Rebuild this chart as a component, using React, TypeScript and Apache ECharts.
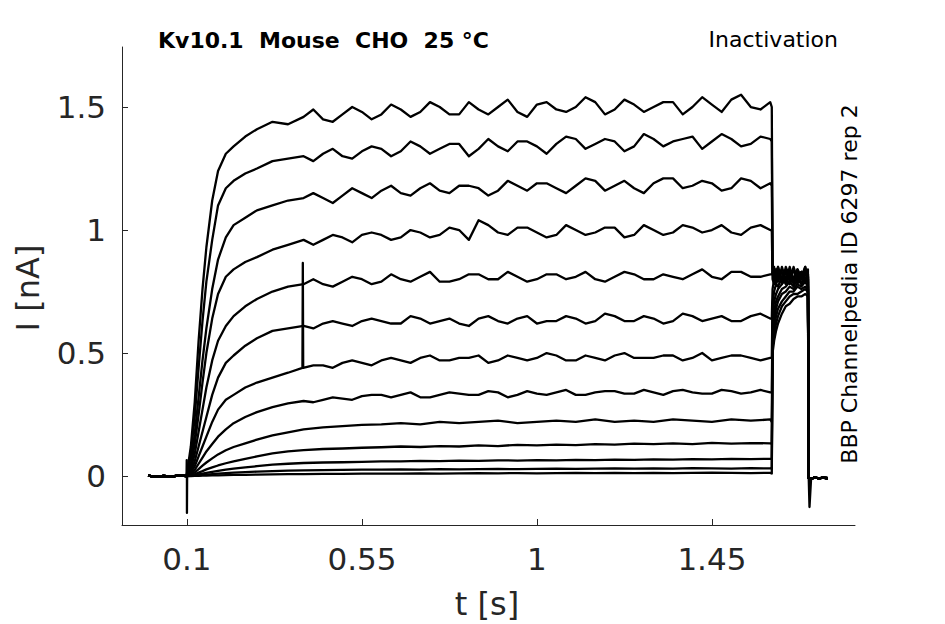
import React, { useEffect, useRef } from "react";
import * as echarts from "echarts";

// ---- axis ticks ----
const X_TICKS = [0.1, 0.55, 1, 1.45];
const Y_TICKS = [0, 0.5, 1, 1.5];

// ---- pre-pulse baseline ----
const PRE_T = [0, 0.02, 0.04, 0.06, 0.08, 0.099];
const PRE_I = [0.002, -0.003, 0.001, -0.002, 0.003, 0.0];

// capacitive artifact at pulse onset
const START_SPIKE_T = [0.0995, 0.1, 0.1005];
const START_SPIKE_I = [0.065, -0.15, 0.0];

// ---- step pulse time grid ----
const STEP_T = [0.1, 0.11, 0.12, 0.13, 0.14, 0.15, 0.165, 0.18, 0.2, 0.22, 0.25, 0.28, 0.32, 0.36, 0.4, 0.45, 0.5, 0.55, 0.6,
  0.65, 0.7, 0.75, 0.8, 0.85, 0.9, 0.95, 1.0, 1.05, 1.1, 1.15, 1.2, 1.25, 1.3, 1.35, 1.4, 1.45, 1.5, 1.55, 1.6];

const TRACE_1 = [0, 0.12, 0.30, 0.55, 0.76, 0.93, 1.12, 1.24, 1.31, 1.34, 1.38, 1.41, 1.44, 1.43, 1.46, 1.45, 1.47, 1.48, 1.47,
  1.49, 1.48, 1.50, 1.47, 1.49, 1.50, 1.48, 1.51, 1.49, 1.50, 1.52, 1.49, 1.51, 1.50, 1.52, 1.50, 1.51, 1.53, 1.50, 1.52];
const TRACE_2 = [0, 0.09, 0.24, 0.44, 0.63, 0.79, 0.96, 1.10, 1.17, 1.20, 1.23, 1.25, 1.28, 1.29, 1.30, 1.31, 1.30, 1.32, 1.33,
  1.32, 1.34, 1.33, 1.35, 1.33, 1.34, 1.36, 1.34, 1.35, 1.37, 1.35, 1.36, 1.34, 1.37, 1.36, 1.38, 1.36, 1.37, 1.35, 1.37];
const TRACE_3 = [0, 0.06, 0.17, 0.32, 0.47, 0.60, 0.76, 0.88, 0.97, 1.02, 1.05, 1.08, 1.10, 1.12, 1.13, 1.13, 1.14, 1.15, 1.16,
  1.15, 1.17, 1.16, 1.18, 1.17, 1.16, 1.18, 1.19, 1.17, 1.18, 1.20, 1.18, 1.17, 1.19, 1.21, 1.18, 1.19, 1.17, 1.20, 1.19];
const TRACE_4 = [0, 0.04, 0.13, 0.25, 0.38, 0.50, 0.64, 0.74, 0.81, 0.84, 0.87, 0.89, 0.92, 0.94, 0.96, 0.96, 0.97, 0.98, 0.98,
  0.97, 0.99, 0.98, 1.00, 1.04, 0.99, 1.01, 0.99, 0.98, 1.00, 0.99, 1.01, 0.98, 1.00, 0.99, 1.01, 1.00, 0.99, 1.01, 1.00];
const TRACE_5 = [0, 0.03, 0.09, 0.18, 0.27, 0.36, 0.47, 0.55, 0.61, 0.65, 0.69, 0.72, 0.75, 0.77, 0.78, 0.78, 0.79, 0.80, 0.79,
  0.80, 0.81, 0.79, 0.80, 0.82, 0.80, 0.81, 0.80, 0.82, 0.81, 0.80, 0.81, 0.82, 0.80, 0.81, 0.82, 0.81, 0.83, 0.81, 0.82];
const TRACE_6 = [0, 0.02, 0.06, 0.12, 0.18, 0.24, 0.33, 0.40, 0.46, 0.49, 0.53, 0.56, 0.59, 0.60, 0.61, 0.62, 0.62, 0.63, 0.63,
  0.62, 0.64, 0.63, 0.62, 0.64, 0.63, 0.64, 0.62, 0.63, 0.64, 0.63, 0.65, 0.63, 0.64, 0.63, 0.65, 0.64, 0.63, 0.65, 0.64];
const TRACE_7 = [0, 0.015, 0.04, 0.08, 0.12, 0.16, 0.22, 0.27, 0.31, 0.33, 0.36, 0.38, 0.40, 0.42, 0.44, 0.45, 0.46, 0.46, 0.47,
  0.47, 0.48, 0.47, 0.48, 0.49, 0.47, 0.48, 0.48, 0.49, 0.47, 0.48, 0.49, 0.48, 0.48, 0.49, 0.48, 0.47, 0.49, 0.48, 0.48];
const TRACE_8 = [0, 0.01, 0.025, 0.05, 0.075, 0.10, 0.13, 0.16, 0.19, 0.215, 0.24, 0.26, 0.28, 0.295, 0.305, 0.31, 0.315, 0.325, 0.33,
  0.33, 0.32, 0.33, 0.335, 0.33, 0.34, 0.33, 0.335, 0.34, 0.33, 0.34, 0.345, 0.335, 0.34, 0.345, 0.34, 0.335, 0.345, 0.34, 0.34];
const TRACE_9 = [0, 0.005, 0.015, 0.028, 0.042, 0.055, 0.072, 0.088, 0.105, 0.118, 0.133, 0.148, 0.165, 0.178, 0.19, 0.198, 0.203, 0.208, 0.21,
  0.215, 0.21, 0.22, 0.215, 0.22, 0.225, 0.215, 0.22, 0.225, 0.22, 0.23, 0.22, 0.225, 0.22, 0.23, 0.225, 0.22, 0.23, 0.225, 0.23];
const TRACE_10 = [0, 0.003, 0.008, 0.014, 0.02, 0.027, 0.035, 0.043, 0.052, 0.06, 0.07, 0.08, 0.092, 0.1, 0.105, 0.11, 0.112, 0.115, 0.117,
  0.12, 0.118, 0.122, 0.12, 0.125, 0.122, 0.127, 0.125, 0.128, 0.126, 0.13, 0.128, 0.132, 0.13, 0.133, 0.13, 0.135, 0.132, 0.134, 0.133];
const TRACE_11 = [0, 0.002, 0.004, 0.007, 0.01, 0.013, 0.017, 0.021, 0.026, 0.03, 0.035, 0.04, 0.046, 0.05, 0.053, 0.055, 0.056, 0.058, 0.06,
  0.06, 0.062, 0.061, 0.063, 0.062, 0.064, 0.063, 0.065, 0.064, 0.066, 0.065, 0.067, 0.066, 0.068, 0.067, 0.069, 0.068, 0.07, 0.069, 0.07];
const TRACE_12 = [0, 0.001, 0.002, 0.003, 0.005, 0.006, 0.008, 0.01, 0.012, 0.014, 0.016, 0.018, 0.02, 0.022, 0.023, 0.024, 0.025, 0.026, 0.026,
  0.027, 0.026, 0.028, 0.027, 0.028, 0.029, 0.028, 0.029, 0.03, 0.029, 0.03, 0.031, 0.03, 0.031, 0.03, 0.032, 0.031, 0.03, 0.032, 0.031];
const TRACE_13 = [0, 0, 0.001, 0.001, 0.002, 0.002, 0.003, 0.003, 0.004, 0.005, 0.005, 0.006, 0.007, 0.008, 0.008, 0.009, 0.009, 0.01, 0.01,
  0.01, 0.011, 0.01, 0.011, 0.012, 0.011, 0.012, 0.011, 0.012, 0.013, 0.012, 0.013, 0.012, 0.013, 0.012, 0.013, 0.014, 0.013, 0.012, 0.013];

// ---- extra readings between grid points (noise) for the larger traces ----
const MID_T = [0.425, 0.475, 0.525, 0.575, 0.625, 0.675, 0.725, 0.775, 0.825, 0.875, 0.925, 0.975,
  1.025, 1.075, 1.125, 1.175, 1.225, 1.275, 1.325, 1.375, 1.425, 1.475, 1.525, 1.575];
const MID_1 = [1.49, 1.44, 1.50, 1.45, 1.51, 1.46, 1.52, 1.47, 1.52, 1.47, 1.53, 1.46,
  1.52, 1.48, 1.54, 1.47, 1.53, 1.48, 1.52, 1.47, 1.54, 1.48, 1.55, 1.49];
const MID_2 = [1.28, 1.33, 1.29, 1.34, 1.30, 1.36, 1.31, 1.35, 1.30, 1.37, 1.32, 1.36,
  1.31, 1.38, 1.33, 1.37, 1.32, 1.39, 1.34, 1.37, 1.33, 1.39, 1.34, 1.38];
const MID_3 = [1.15, 1.11, 1.17, 1.13, 1.18, 1.14, 1.19, 1.15, 1.18, 1.14, 1.20, 1.16,
  1.19, 1.15, 1.21, 1.16, 1.20, 1.15, 1.21, 1.17, 1.20, 1.16, 1.21, 1.17];
const MID_4 = [0.94, 0.98, 0.95, 0.99, 0.96, 1.00, 0.97, 1.01, 0.96, 1.02, 0.98, 1.01,
  0.97, 1.02, 0.98, 1.01, 0.97, 1.02, 0.98, 1.02, 0.99, 1.02, 0.98, 1.02];
const MID_5 = [0.80, 0.77, 0.81, 0.78, 0.82, 0.79, 0.83, 0.79, 0.82, 0.80, 0.83, 0.79,
  0.82, 0.80, 0.83, 0.79, 0.83, 0.80, 0.82, 0.80, 0.84, 0.80, 0.83, 0.81];
const MID_6 = [0.60, 0.63, 0.61, 0.64, 0.62, 0.65, 0.62, 0.64, 0.61, 0.65, 0.62, 0.65,
  0.63, 0.65, 0.62, 0.66, 0.63, 0.65, 0.62, 0.66, 0.63, 0.65, 0.63, 0.66];
const MID_7 = [0.45, 0.44, 0.47, 0.45, 0.48, 0.46, 0.49, 0.47, 0.48, 0.46, 0.49, 0.47,
  0.50, 0.47, 0.49, 0.47, 0.50, 0.48, 0.49, 0.47, 0.50, 0.48, 0.49, 0.47];
const MID_8 = [0.30, 0.32, 0.31, 0.33, 0.32, 0.34, 0.32, 0.34, 0.33, 0.345, 0.32, 0.345,
  0.33, 0.35, 0.33, 0.345, 0.335, 0.35, 0.33, 0.35, 0.335, 0.35, 0.335, 0.35];

// artifact spike in trace 7
const ARTIFACT_T = [0.397, 0.398, 0.399];
const ARTIFACT_I = [0.44, 0.866, 0.44];

// ---- tail (test pulse) ----
const TAIL_T = [1.604, 1.606, 1.61, 1.615, 1.62, 1.63, 1.64, 1.65, 1.66, 1.67, 1.68, 1.69, 1.697];
const TAIL_1 = [1.50, 0.86, 0.80, 0.84, 0.79, 0.85, 0.80, 0.83, 0.78, 0.84, 0.81, 0.85, 0.80];
const TAIL_2 = [1.36, 0.84, 0.82, 0.78, 0.85, 0.80, 0.84, 0.79, 0.85, 0.80, 0.83, 0.79, 0.84];
const TAIL_3 = [1.18, 0.82, 0.85, 0.79, 0.83, 0.78, 0.85, 0.81, 0.79, 0.84, 0.80, 0.85, 0.81];
const TAIL_4 = [1.00, 0.80, 0.78, 0.84, 0.80, 0.83, 0.79, 0.85, 0.80, 0.82, 0.78, 0.83, 0.80];
const TAIL_5 = [0.82, 0.83, 0.79, 0.82, 0.85, 0.79, 0.83, 0.80, 0.84, 0.78, 0.83, 0.80, 0.82];
const TAIL_6 = [0.64, 0.76, 0.80, 0.78, 0.82, 0.79, 0.83, 0.80, 0.84, 0.81, 0.83, 0.79, 0.82];
const TAIL_7 = [0.48, 0.70, 0.75, 0.78, 0.77, 0.81, 0.78, 0.82, 0.80, 0.83, 0.80, 0.82, 0.81];
const TAIL_8 = [0.34, 0.66, 0.71, 0.74, 0.76, 0.78, 0.80, 0.78, 0.81, 0.79, 0.82, 0.80, 0.81];
const TAIL_9 = [0.22, 0.62, 0.67, 0.71, 0.73, 0.76, 0.77, 0.79, 0.77, 0.80, 0.78, 0.80, 0.79];
const TAIL_10 = [0.13, 0.58, 0.64, 0.68, 0.71, 0.74, 0.75, 0.77, 0.76, 0.78, 0.77, 0.79, 0.77];
const TAIL_11 = [0.07, 0.55, 0.61, 0.65, 0.68, 0.71, 0.73, 0.75, 0.75, 0.77, 0.76, 0.77, 0.76];
const TAIL_12 = [0.03, 0.52, 0.58, 0.62, 0.65, 0.69, 0.71, 0.73, 0.74, 0.74, 0.75, 0.76, 0.75];
const TAIL_13 = [0.01, 0.50, 0.55, 0.59, 0.62, 0.66, 0.69, 0.70, 0.72, 0.73, 0.73, 0.74, 0.73];

// end-of-test-pulse artifact
const END_SPIKE_T = [1.701];
const END_SPIKE_I = [-0.126];

// ---- post baseline ----
const POST_T = [1.699, 1.705, 1.715, 1.725, 1.735, 1.748];
const POST_I = [-0.008, -0.012, -0.005, -0.01, -0.006, -0.009];

const STEPS = [TRACE_1, TRACE_2, TRACE_3, TRACE_4, TRACE_5, TRACE_6, TRACE_7, TRACE_8, TRACE_9, TRACE_10, TRACE_11, TRACE_12, TRACE_13];
const MIDS = [MID_1, MID_2, MID_3, MID_4, MID_5, MID_6, MID_7, MID_8];
const TAILS = [TAIL_1, TAIL_2, TAIL_3, TAIL_4, TAIL_5, TAIL_6, TAIL_7, TAIL_8, TAIL_9, TAIL_10, TAIL_11, TAIL_12, TAIL_13];

function zip(t: number[], v: number[]): number[][] {
  const out: number[][] = [];
  t.forEach((x, i) => {
    if (v[i] !== undefined) out.push([x, v[i]]);
  });
  return out;
}

function buildTrace(idx: number): number[][] {
  let pts: number[][] = [
    ...zip(PRE_T, PRE_I),
    ...zip(STEP_T, STEPS[idx]),
    ...zip(TAIL_T, TAILS[idx]),
    ...zip(POST_T, POST_I),
  ];
  if (MIDS[idx]) pts = pts.concat(zip(MID_T, MIDS[idx]));
  if (idx === 6) pts = pts.concat(zip(ARTIFACT_T, ARTIFACT_I));
  if (idx === 12) pts = pts.concat(zip(START_SPIKE_T, START_SPIKE_I), zip(END_SPIKE_T, END_SPIKE_I));
  pts.sort((a, b) => a[0] - b[0]);
  return pts;
}

const FONT = "DejaVu Sans";
const AX = "#262626";

export default function App() {
  const ref = useRef<HTMLDivElement>(null);
  useEffect(() => {
    if (!ref.current) return;
    const chart = echarts.init(ref.current, undefined, { renderer: "svg" });
    const series = STEPS.map((_, i) => ({
      type: "line",
      data: buildTrace(i),
      symbol: "none",
      showSymbol: false,
      silent: true,
      lineStyle: { color: "#000", width: 2.3, join: "round" },
      z: 3,
    }));
    chart.setOption({
      animation: false,
      backgroundColor: "#ffffff",
      grid: { left: 122, top: 47, width: 733, height: 478, containLabel: false },
      xAxis: {
        type: "value",
        min: -0.067,
        max: 1.818,
        axisLine: { show: true, onZero: false, lineStyle: { color: AX, width: 1 } },
        axisTick: { show: true, inside: true, length: 6, lineStyle: { color: AX }, customValues: X_TICKS },
        axisLabel: {
          customValues: X_TICKS,
          fontSize: 31,
          color: AX,
          fontFamily: FONT,
          margin: 18,
          formatter: (v: number) => String(v),
        },
        splitLine: { show: false },
      },
      yAxis: {
        type: "value",
        min: -0.199,
        max: 1.744,
        axisLine: { show: true, onZero: false, lineStyle: { color: AX, width: 1 } },
        axisTick: { show: true, inside: true, length: 6, lineStyle: { color: AX }, customValues: Y_TICKS },
        axisLabel: {
          customValues: Y_TICKS,
          fontSize: 31,
          color: AX,
          fontFamily: FONT,
          margin: 16,
          formatter: (v: number) => String(v),
        },
        splitLine: { show: false },
      },
      series,
      graphic: [
        {
          type: "text", x: 158, y: 40,
          style: { text: "Kv10.1  Mouse  CHO  25 °C", fontSize: 22, fontWeight: "bold", fontFamily: FONT, fill: "#000",
            textAlign: "left", textVerticalAlign: "middle", align: "left", verticalAlign: "middle" },
        },
        {
          type: "text", x: 838, y: 39,
          style: { text: "Inactivation", fontSize: 22, fontFamily: FONT, fill: "#000",
            textAlign: "right", textVerticalAlign: "middle", align: "right", verticalAlign: "middle" },
        },
        {
          type: "text", x: 849, y: 284, rotation: Math.PI / 2,
          style: { text: "BBP Channelpedia ID 6297 rep 2", fontSize: 22, fontFamily: FONT, fill: "#000",
            textAlign: "center", textVerticalAlign: "middle", align: "center", verticalAlign: "middle" },
        },
        {
          type: "text", x: 28, y: 288, rotation: Math.PI / 2,
          style: { text: "I [nA]", fontSize: 32, fontFamily: FONT, fill: AX,
            textAlign: "center", textVerticalAlign: "middle", align: "center", verticalAlign: "middle" },
        },
        {
          type: "text", x: 487, y: 604,
          style: { text: "t [s]", fontSize: 32, fontFamily: FONT, fill: AX,
            textAlign: "center", textVerticalAlign: "middle", align: "center", verticalAlign: "middle" },
        },
      ],
    });
    return () => chart.dispose();
  }, []);
  return <div ref={ref} style={{ position: "fixed", left: 0, top: 0, width: 945, height: 624 }} />;
}
